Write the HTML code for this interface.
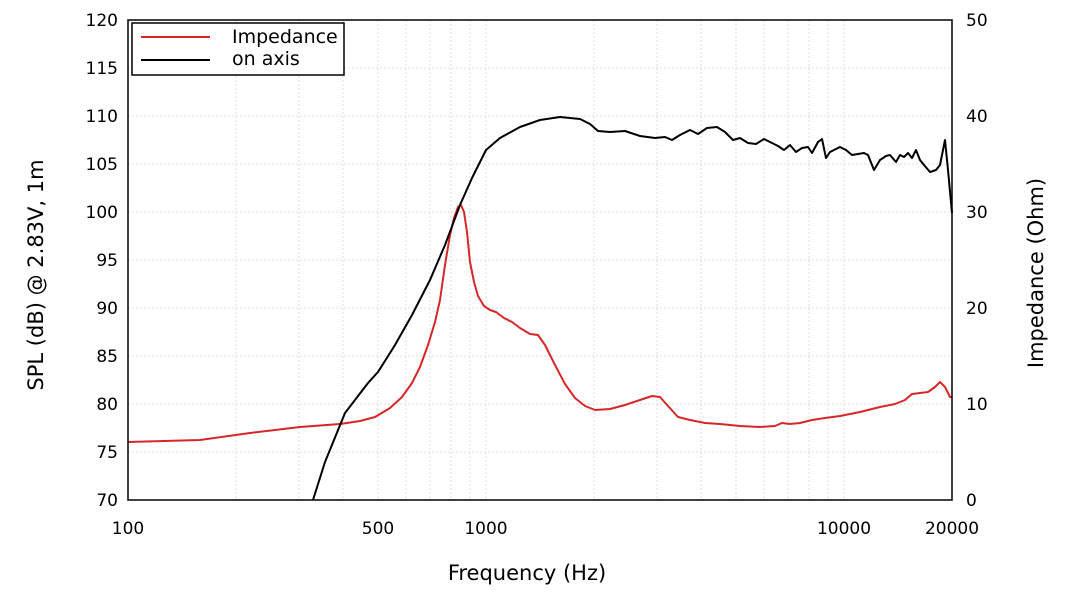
<!DOCTYPE html>
<html><head><style>body{margin:0;background:#fff}svg{display:block}text{font-family:"DejaVu Sans","Liberation Sans",sans-serif;fill:#000}</style></head><body>
<svg width="1070" height="596" viewBox="0 0 1070 596">
<g stroke="#ddd" stroke-width="1" stroke-dasharray="2,2">
<line x1="236" y1="20" x2="236" y2="500"/><line x1="299" y1="20" x2="299" y2="500"/><line x1="343" y1="20" x2="343" y2="500"/><line x1="378" y1="20" x2="378" y2="500"/><line x1="406" y1="20" x2="406" y2="500"/><line x1="430" y1="20" x2="430" y2="500"/><line x1="451" y1="20" x2="451" y2="500"/><line x1="470" y1="20" x2="470" y2="500"/><line x1="486" y1="20" x2="486" y2="500"/><line x1="594" y1="20" x2="594" y2="500"/><line x1="657" y1="20" x2="657" y2="500"/><line x1="701" y1="20" x2="701" y2="500"/><line x1="736" y1="20" x2="736" y2="500"/><line x1="764" y1="20" x2="764" y2="500"/><line x1="788" y1="20" x2="788" y2="500"/><line x1="809" y1="20" x2="809" y2="500"/><line x1="828" y1="20" x2="828" y2="500"/><line x1="844" y1="20" x2="844" y2="500"/>
<line x1="128" y1="68" x2="952" y2="68"/><line x1="128" y1="116" x2="952" y2="116"/><line x1="128" y1="164" x2="952" y2="164"/><line x1="128" y1="212" x2="952" y2="212"/><line x1="128" y1="260" x2="952" y2="260"/><line x1="128" y1="308" x2="952" y2="308"/><line x1="128" y1="356" x2="952" y2="356"/><line x1="128" y1="404" x2="952" y2="404"/><line x1="128" y1="452" x2="952" y2="452"/>
</g>
<g fill="none" stroke-width="2" stroke-linejoin="round">
<polyline stroke="#d62728" points="128,442 200,440 250,433 300,427 340,424 360,421 375,417 390,408 402,397 412,383 420,367 428,345 435,322 440,300 445,265 450,235 454,218 458,207 461,205 464,212 467,232 470,262 474,282 478,296 484,306 490,310 496,312 504,318 512,322 520,328 530,334 538,335 545,345 555,365 565,384 575,398 585,406 595,410 610,409 625,405 640,400 652,396 660,397 668,406 678,417 690,420 705,423 720,424 740,426 760,427 775,426 782,423 790,424 800,423 812,420 825,418 840,416 860,412 880,407 895,404 905,400 912,394 920,393 928,392 935,387 940,382 945,387 950,397 952,397"/>
<polyline stroke="#000" points="313,500 325,462 345,413 368,383 378,372 395,345 412,315 430,280 445,245 460,205 472,178 486,150 500,138 520,127 540,120 560,117 580,119 590,124 598,131 610,132 625,131 640,136 655,138 665,137 672,140 680,135 690,130 698,134 707,128 717,127 725,132 733,140 740,138 748,143 756,144 764,139 772,143 778,146 784,150 790,145 796,152 802,148 808,147 812,153 818,142 822,139 826,158 830,152 840,147 846,150 852,155 858,154 864,153 868,155 874,170 880,160 886,156 890,155 896,162 900,155 904,157 908,153 912,158 916,150 920,160 924,165 930,172 936,170 940,165 945,140 948,170 952,213"/>
</g>
<rect x="128" y="20" width="824" height="480" fill="none" stroke="#000" stroke-width="1.5"/>
<rect x="132" y="23" width="212" height="52" fill="#fff" stroke="#000" stroke-width="1.5"/>
<line x1="141" y1="37" x2="210" y2="37" stroke="#d62728" stroke-width="2"/>
<line x1="141" y1="60" x2="210" y2="60" stroke="#000" stroke-width="2"/>
<text x="232" y="43" font-size="19">Impedance</text>
<text x="232" y="65" font-size="19">on axis</text>
<g font-size="17" text-anchor="end">
<text x="118" y="26">120</text><text x="118" y="74">115</text><text x="118" y="122">110</text><text x="118" y="170">105</text><text x="118" y="218">100</text><text x="118" y="266">95</text><text x="118" y="314">90</text><text x="118" y="362">85</text><text x="118" y="410">80</text><text x="118" y="458">75</text><text x="118" y="506">70</text>
</g>
<g font-size="17" text-anchor="start">
<text x="966" y="26">50</text><text x="966" y="122">40</text><text x="966" y="218">30</text><text x="966" y="314">20</text><text x="966" y="410">10</text><text x="966" y="506">0</text>
</g>
<g font-size="17" text-anchor="middle">
<text x="128" y="534">100</text><text x="378" y="534">500</text><text x="486" y="534">1000</text><text x="844" y="534">10000</text><text x="952" y="534">20000</text>
</g>
<text x="527" y="580" font-size="21" text-anchor="middle">Frequency (Hz)</text>
<text transform="translate(43,275) rotate(-90)" font-size="21" text-anchor="middle">SPL (dB) @ 2.83V, 1m</text>
<text transform="translate(1043,273) rotate(-90)" font-size="21" text-anchor="middle">Impedance (Ohm)</text>
</svg>
</body></html>
